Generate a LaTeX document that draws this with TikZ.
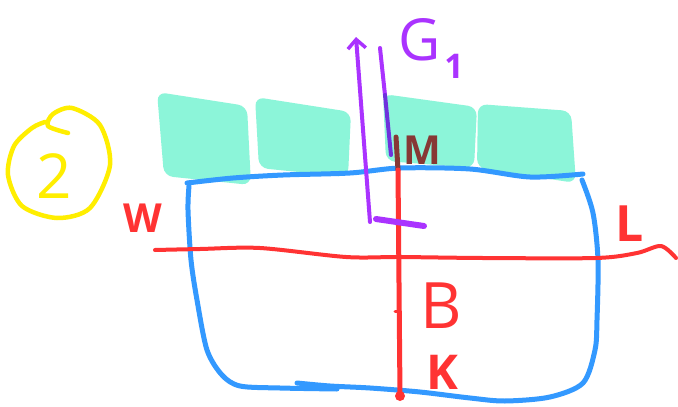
\documentclass[tikz,border=0pt]{standalone}
\usepackage{fontspec}
\setmainfont{Open Sans}
\usetikzlibrary{arrows.meta}
\definecolor{mint}{RGB}{140,245,217}
\definecolor{sblue}{RGB}{51,153,255}
\definecolor{sred}{RGB}{255,51,51}
\definecolor{sbrown}{RGB}{135,56,53}
\definecolor{spurple}{RGB}{170,51,255}
\definecolor{sdpurple}{RGB}{110,50,220}
\definecolor{syellow}{RGB}{255,238,0}
\tikzset{
  tile/.style={fill=mint, rounded corners=9pt},
  bluestroke/.style={draw=sblue, line width=5pt, line cap=round, line join=round},
  redstroke/.style={draw=sred, line width=5pt, line cap=round, line join=round},
  purplestroke/.style={draw=spurple, line width=4pt, line cap=round, line join=round},
  lbl/.style={inner sep=0pt, anchor=center},
}
\begin{document}
\begin{tikzpicture}[x=1pt,y=-1pt]
\useasboundingbox[fill=white] (0,0) rectangle (678,407);
% teal tiles
\path[tile] (157,92) -- (247,106) -- (251,185) -- (164,176) -- cycle;
\path[tile] (255,97) -- (351,112) -- (348,177) -- (259,168) -- cycle;
\path[tile] (383,94) -- (477,107) -- (474,168) -- (386,161) -- cycle;
\path[tile] (478,104) -- (571,111) -- (576,183) -- (477,168) -- cycle;
% blue hull
\draw[bluestroke] plot[smooth] coordinates {(187,183) (233,178) (283,175) (350,173) (400,168) (470,169) (530,177) (583,174)};
\draw[bluestroke] plot[smooth] coordinates {(189,186) (188,210) (191,260) (197,300) (207,350) (222,375) (240,386) (280,388) (337,389)};
\draw[bluestroke] plot[smooth] coordinates {(297,383) (330,386) (370,388) (420,392) (470,398) (505,401) (550,397) (583,383) (595,350) (597,320) (598,260) (593,213) (582,180)};
% waterline
\draw[redstroke, line width=4pt] plot[smooth] coordinates {(155,250) (200,249) (260,248) (346,257) (400,257) (483,258) (596,258) (637,253) (661,246) (676,258)};
% vertical centre line
\coordinate (ktop) at (398,170);
\coordinate (kbot) at (400,396);
\draw[draw=sbrown, line width=5pt, line cap=round] (396,137) -- (ktop);
\draw[redstroke] (ktop) -- (kbot);
\fill[sred] (kbot) circle (5pt);
\draw[redstroke, line width=3pt] (395,311) -- (398,311);
% purple arrow
\coordinate (gbot) at (370,222);
\coordinate (gtop) at (356,37);
\draw[purplestroke, -{Straight Barb[length=9pt,width=18pt,line width=3.5pt]}] (gbot) -- (gtop);
\draw[purplestroke, line width=6pt] (376,219) -- (424,226);
\draw[purplestroke] (380,48) -- (385,95);
\draw[draw=sdpurple, line width=4pt, line cap=round] (385,95) -- (391,155);
% circled 2
\draw[draw=syellow, line width=4.5pt, line cap=round, line join=round] plot[smooth] coordinates {(68,133) (48,126) (53,114) (72,108) (100,125) (110,165) (90,208) (57,218) (22,206) (8,175) (14,146) (32,128) (45,122)};
\node[lbl, text=syellow, font=\fontsize{62}{62}\selectfont] (two) at (54,176) {2};
% labels
\node[lbl, text=sred, font=\bfseries\fontsize{40}{40}\selectfont] (w) at (143,218) {W};
\node[lbl, text=sred, font=\bfseries\fontsize{50}{50}\selectfont] (l) at (630,224) {L};
\node[lbl, text=sbrown, font=\bfseries\fontsize{40}{40}\selectfont] (m) at (422,150) {M};
\node[lbl, text=sred, font=\fontsize{64}{64}\selectfont] (b) at (441,306) {B};
\node[lbl, text=sred, font=\bfseries\fontsize{48}{48}\selectfont] (k) at (442,372) {K};
\node[lbl, text=spurple, font=\fontsize{58}{58}\selectfont] (g) at (420,40) {G};
\node[lbl, text=spurple, font=\bfseries\fontsize{34}{34}\selectfont] (g1) at (454,66) {1};
\end{tikzpicture}
\end{document}
